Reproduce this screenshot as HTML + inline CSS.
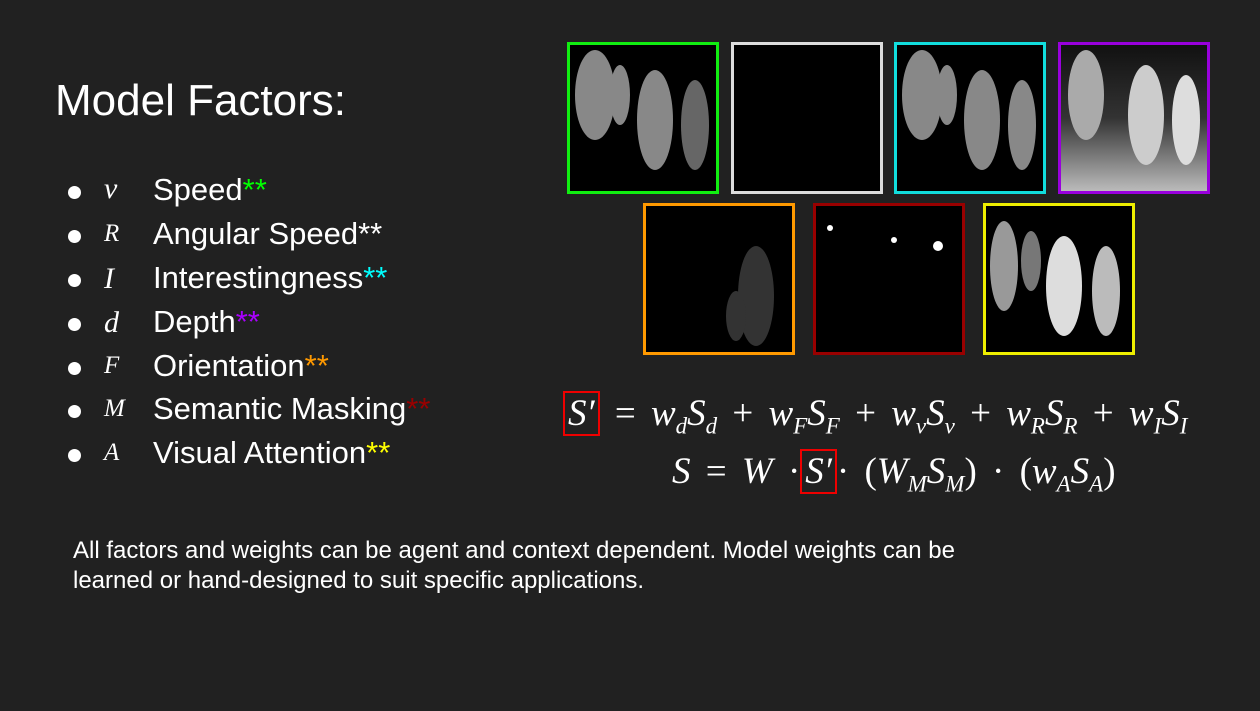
<!DOCTYPE html>
<html><head><meta charset="utf-8"><style>
body{margin:0;width:1260px;height:711px;background:#212121;overflow:hidden;position:relative;font-family:"Liberation Sans",sans-serif;color:#fff}
.t{position:absolute;white-space:nowrap}
.title{left:55px;top:76px;font-size:44px}
.b{position:absolute;left:68px;width:13px;height:13px;border-radius:50%;background:#fff}
.sym{position:absolute;left:104px;font-family:"Liberation Serif",serif;font-style:italic;font-size:30px}
.lab{position:absolute;left:153px;font-size:31px}
.box{position:absolute;width:146px;height:146px;background:#000;border:3px solid}
.eq{position:absolute;font-family:"Liberation Serif",serif;font-size:37px;font-style:italic;white-space:nowrap;word-spacing:6px}
.eq sub{font-size:23px}
.eq .n{font-style:normal}
.red{border:2px solid #e00;padding:0 3px}
.foot{position:absolute;left:73px;font-size:24px}
</style></head><body>
<div class="t title">Model Factors:</div>

<div>
<div class="b" style="top:186px"></div><div class="t sym" style="top:172px">v</div><div class="t lab" style="top:172px">Speed<span style="color:#0f0">**</span></div>
<div class="b" style="top:230px"></div><div class="t sym" style="top:220px;font-size:25px">R</div><div class="t lab" style="top:216px">Angular Speed<span>**</span></div>
<div class="b" style="top:274px"></div><div class="t sym" style="top:262px">I</div><div class="t lab" style="top:260px">Interestingness<span style="color:#0ff">**</span></div>
<div class="b" style="top:318px"></div><div class="t sym" style="top:306px">d</div><div class="t lab" style="top:304px">Depth<span style="color:#a0f">**</span></div>
<div class="b" style="top:362px"></div><div class="t sym" style="top:352px;font-size:25px">F</div><div class="t lab" style="top:348px">Orientation<span style="color:#f90">**</span></div>
<div class="b" style="top:405px"></div><div class="t sym" style="top:395px;font-size:25px">M</div><div class="t lab" style="top:391px">Semantic Masking<span style="color:#900">**</span></div>
<div class="b" style="top:449px"></div><div class="t sym" style="top:439px;font-size:25px">A</div><div class="t lab" style="top:435px">Visual Attention<span style="color:#ff0">**</span></div>
</div>

<div class="box" style="left:567px;top:42px;border-color:#1e1">
<svg width="146" height="146"><g fill="#888"><ellipse cx="25" cy="50" rx="20" ry="45"/><ellipse cx="50" cy="50" rx="10" ry="30"/><ellipse cx="85" cy="75" rx="18" ry="50"/><ellipse cx="125" cy="80" rx="14" ry="45" fill="#666"/></g></svg></div>
<div class="box" style="left:731px;top:42px;border-color:#ddd"></div>
<div class="box" style="left:894px;top:42px;border-color:#1dd">
<svg width="146" height="146"><g fill="#888"><ellipse cx="25" cy="50" rx="20" ry="45"/><ellipse cx="50" cy="50" rx="10" ry="30"/><ellipse cx="85" cy="75" rx="18" ry="50"/><ellipse cx="125" cy="80" rx="14" ry="45"/></g></svg></div>
<div class="box" style="left:1058px;top:42px;border-color:#90d;background:linear-gradient(#111,#333 50%,#bbb)">
<svg width="146" height="146"><g fill="#aaa"><ellipse cx="25" cy="50" rx="18" ry="45"/><ellipse cx="85" cy="70" rx="18" ry="50" fill="#ccc"/><ellipse cx="125" cy="75" rx="14" ry="45" fill="#ddd"/></g></svg></div>
<div class="box" style="left:643px;top:203px;border-color:#f90">
<svg width="146" height="146"><g fill="#333"><ellipse cx="110" cy="90" rx="18" ry="50"/><ellipse cx="90" cy="110" rx="10" ry="25"/></g></svg></div>
<div class="box" style="left:813px;top:203px;border-color:#900">
<svg width="146" height="146"><g fill="#fff"><circle cx="14" cy="22" r="3"/><circle cx="78" cy="34" r="3"/><circle cx="122" cy="40" r="5"/></g></svg></div>
<div class="box" style="left:983px;top:203px;border-color:#ee0">
<svg width="146" height="146"><g fill="#999"><ellipse cx="18" cy="60" rx="14" ry="45"/><ellipse cx="45" cy="55" rx="10" ry="30" fill="#777"/><ellipse cx="78" cy="80" rx="18" ry="50" fill="#ddd"/><ellipse cx="120" cy="85" rx="14" ry="45" fill="#bbb"/></g></svg></div>

<div class="eq" style="left:563px;top:392px"><span class="red">S′</span> <span class="n">=</span> w<sub>d</sub>S<sub>d</sub> <span class="n">+</span> w<sub>F</sub>S<sub>F</sub> <span class="n">+</span> w<sub>v</sub>S<sub>v</sub> <span class="n">+</span> w<sub>R</sub>S<sub>R</sub> <span class="n">+</span> w<sub>I</sub>S<sub>I</sub></div>
<div class="eq" style="left:672px;top:450px">S <span class="n">=</span> W <span class="n">·</span><span class="red">S′</span><span class="n">· (</span>W<sub>M</sub>S<sub>M</sub><span class="n">) · (</span>w<sub>A</sub>S<sub>A</sub><span class="n">)</span></div>

<div class="t foot" style="top:537px">All factors and weights can be agent and context dependent. Model weights can be</div>
<div class="t foot" style="top:567px">learned or hand-designed to suit specific applications.</div>
</body></html>
